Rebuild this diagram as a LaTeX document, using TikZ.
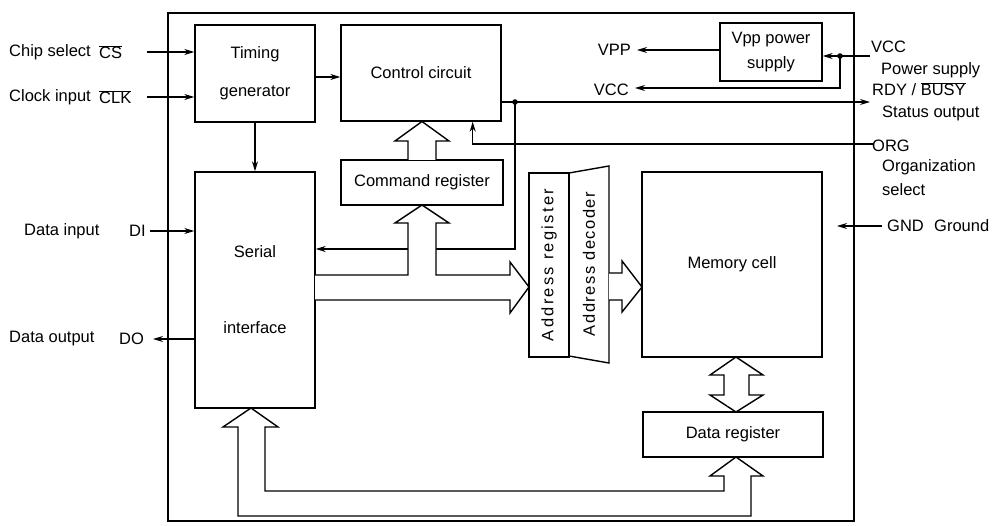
\documentclass[tikz,border=0pt]{standalone}
\usepackage{fontspec}
\setmainfont{Liberation Sans}
\usetikzlibrary{arrows.meta,positioning}

\newcommand{\ovl}[1]{$\overline{\hbox{#1}}$}

\tikzset{
  box/.style={draw, line width=1.4pt, inner sep=0pt, align=center, font=\fontsize{16.5}{19}\selectfont},
  sig/.style={line width=1.3pt, -{Stealth[length=10pt,width=6pt]}},
  wire/.style={line width=1.3pt},
  bus/.style={draw, line width=1.4pt, fill=white, line join=miter},
  lbl/.style={inner sep=0pt, font=\fontsize{16.5}{19}\selectfont},
}

\begin{document}
\begin{tikzpicture}[x=1pt, y=-1pt]
\useasboundingbox (0,0) rectangle (993,526);

% Chip outline
\draw[line width=2.8pt] (168,13) rectangle (854,521);

% Blocks
\node[box, minimum width=120pt, minimum height=97pt, font=\fontsize{16.5}{38}\selectfont] (timing) at (255,73.5) {Timing\\generator};
\node[box, minimum width=160pt, minimum height=96pt] (control) at (421,73) {Control circuit};
\node[box, minimum width=162pt, minimum height=45pt] (cmdreg) at (422,182.5) {Command register};
\node[box, minimum width=120pt, minimum height=236pt, font=\fontsize{16.5}{76}\selectfont] (serial) at (255,290) {Serial\\interface};
\node[box, rotate=90, minimum width=184pt, minimum height=40pt] (addrreg) at (549,265) {\addfontfeature{LetterSpace=14}Address register};
\draw[line width=1.4pt] (569,173) -- (609,166) -- (609,363) -- (569,356);
\node[lbl, rotate=90] (decoder) at (589,264) {\addfontfeature{LetterSpace=9}Address decoder};
\node[box, minimum width=180pt, minimum height=185pt] (memory) at (732,264.5) {Memory cell};
\node[box, minimum width=180pt, minimum height=45pt] (datareg) at (733,434.5) {Data register};
\node[box, minimum width=102pt, minimum height=58pt, font=\fontsize{16.5}{25}\selectfont] (vpp) at (771,52) {Vpp power\\supply};

% Pins
\coordinate (cs) at (147,52);
\coordinate (clk) at (147,97);
\coordinate (di) at (150,231);
\coordinate (do) at (153,339);
\coordinate (vppout) at (637,50);
\coordinate (vccout) at (635,88);
\coordinate (vccin) at (870,56);
\coordinate (rdy) at (870,102);
\coordinate (org) at (873,144);
\coordinate (gnd) at (882,226);
\coordinate (tap) at (515,102);
\coordinate (vcctap) at (840,56);

% Left side labels
\node[lbl, anchor=west] (cslbl) at (9,52) {Chip select};
\node[lbl, anchor=west] (csname) at (99,52) {\ovl{CS}};
\node[lbl, anchor=west] (clklbl) at (9,97) {Clock input};
\node[lbl, anchor=west] (clkname) at (99,97) {\ovl{CLK}};
\node[lbl, anchor=west] (dilbl) at (24,231) {Data input};
\node[lbl, anchor=west] (diname) at (129,231) {DI};
\node[lbl, anchor=west] (dolbl) at (9,339) {Data output};
\node[lbl, anchor=west] (doname) at (119,339) {DO};

% Right side labels
\node[lbl, anchor=east] (vpplbl) at (631,50) {VPP};
\node[lbl, anchor=east] (vcclbl) at (629,90) {VCC};
\node[lbl, anchor=west] (vccname) at (871,47) {VCC};
\node[lbl, anchor=west] (pwrlbl) at (881,70) {Power supply};
\node[lbl, anchor=west] (rdyname) at (872,89) {RDY / \ovl{BUSY}};
\node[lbl, anchor=west] (rdylbl) at (882,113) {Status output};
\node[lbl, anchor=west] (orgname) at (872,146) {ORG};
\node[lbl, anchor=west] (orglbl1) at (882,167) {Organization};
\node[lbl, anchor=west] (orglbl2) at (882,190) {select};
\node[lbl, anchor=west] (gndname) at (887,226) {GND};
\node[lbl, anchor=west] (gndlbl) at (934,226) {Ground};

% Signal lines
\draw[sig] (cs) -- (cs -| timing.west);
\draw[sig] (clk) -- (clk -| timing.west);
\draw[sig] (timing.east |- 0,77) -- (control.west |- 0,77);
\draw[sig] (timing.south) -- (serial.north);
\draw[sig] (di) -- (di -| serial.west);
\draw[sig] (do -| serial.west) -- (do);
\draw[sig] (control.east |- rdy) -- (rdy);
\draw[wire] (tap) -- (515,249) -- (436,249);
\draw[sig] (408,249) -- (serial.east |- 0,249);
\draw[sig] (org) -| ([xshift=-29pt]control.south east);
\draw[sig] (vpp.west |- vppout) -- (vppout);
\draw[sig] (vcctap) -- (vccin -| vpp.east);
\draw[wire] (vccin) -- (vcctap);
\draw[sig] (vcctap) |- (vccout);
\draw[sig] (gnd) -- ++(-45,0);
\fill (tap) circle [radius=2.8];
\fill (vcctap) circle [radius=2.8];

% Buses
\draw[bus] (408,160) -- (408,141) -- (395,141) -- (422,121.5) -- (449,141) -- (436,141) -- (436,160);
\draw[bus] (315,275) -- (408,275) -- (408,223) -- (395,223) -- (422,205) -- (449,223) -- (436,223) -- (436,275)
  -- (510,275) -- (510,262) -- (529,287) -- (510,313) -- (510,300) -- (315,300);
\draw[bus] (609,273) -- (622,273) -- (622,261) -- (642,287) -- (622,312) -- (622,300) -- (609,300);
\draw[bus] (736,357) -- (763,375) -- (749,375) -- (749,395) -- (763,395) -- (736,412) -- (710,395)
  -- (724,395) -- (724,375) -- (710,375) -- cycle;
\draw[bus] (736,457) -- (763,476) -- (751,476) -- (751,516) -- (238,516) -- (238,427) -- (223,427)
  -- (251,408) -- (278,427) -- (265,427) -- (265,491) -- (724,491) -- (724,476) -- (710,476) -- cycle;

\end{tikzpicture}
\end{document}
